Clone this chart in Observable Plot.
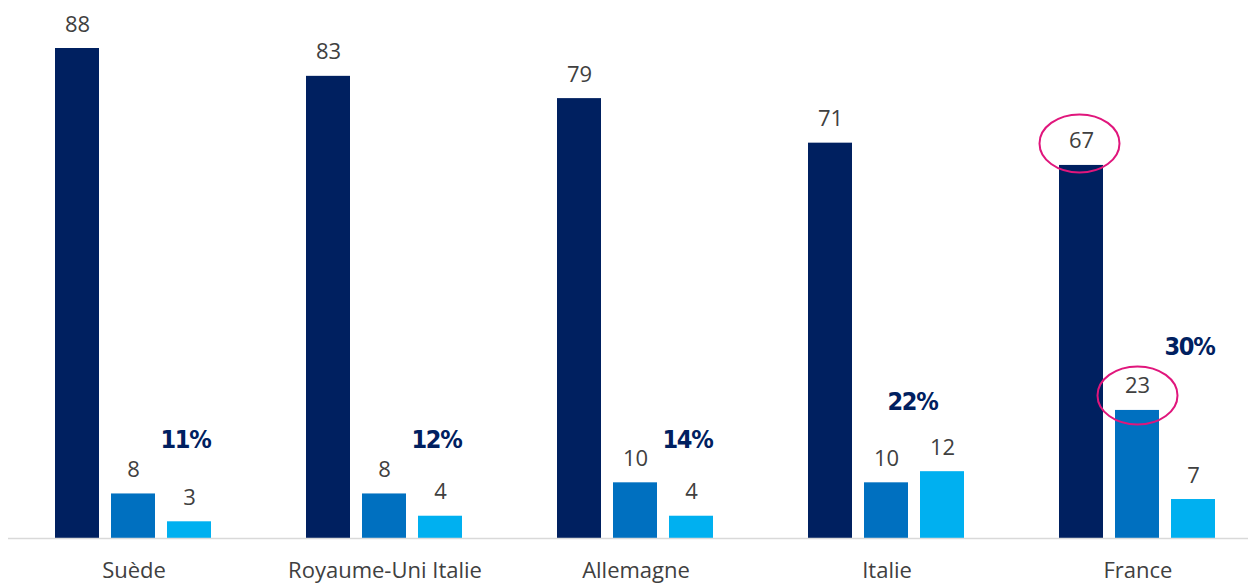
<!DOCTYPE html>
<html><head><meta charset="utf-8">
<script src="https://cdn.jsdelivr.net/npm/d3@7"></script>
<script src="https://cdn.jsdelivr.net/npm/@observablehq/plot@0.6"></script>
<style>body{margin:0;background:#fff;overflow:hidden;font-family:"Open Sans",sans-serif}
.pct text{letter-spacing:-1.2px}</style>
</head><body><div id="chart"></div>
<script>
const countries = ["Suède", "Royaume-Uni Italie", "Allemagne", "Italie", "France"];
const seriesNames = ["Série 1", "Série 2", "Série 3"];
const values1 = [88, 83, 79, 71, 67];
const values2 = [8, 8, 10, 10, 23];
const values3 = [3, 4, 4, 12, 7];
const pctLabels = ["11%", "12%", "14%", "22%", "30%"];
const pctAnchor = [16.3, 16.3, 16.3, 23, 32.9];
const highlighted = [["France", "Série 1"], ["France", "Série 2"]];
const colors = ["#002060", "#0070c0", "#00b0f0"];

const data = [];
countries.forEach((c, i) => {
  [values1, values2, values3].forEach((vals, j) => data.push({country: c, series: seriesNames[j], value: vals[i]}));
});
const pctData = countries.map((c, i) => ({country: c, series: seriesNames[2], label: pctLabels[i], anchor: pctAnchor[i]}));
const hl = data.filter(d => highlighted.some(([c, s]) => d.country === c && d.series === s));

const ellipse = {
  draw(ctx) {
    const rx = 40, ry = 29, k = 0.5523;
    ctx.moveTo(rx, 0);
    ctx.bezierCurveTo(rx, k * ry, k * rx, ry, 0, ry);
    ctx.bezierCurveTo(-k * rx, ry, -rx, k * ry, -rx, 0);
    ctx.bezierCurveTo(-rx, -k * ry, -k * rx, -ry, 0, -ry);
    ctx.bezierCurveTo(k * rx, -ry, rx, -k * ry, rx, 0);
    ctx.closePath();
  }
};

const pctFont = "'Liberation Sans Narrow', 'DejaVu Sans Condensed', sans-serif";

const chart = Plot.plot({
  width: 1248,
  height: 584,
  marginTop: 48,
  marginBottom: 46,
  marginLeft: 10,
  marginRight: 0,
  style: {fontFamily: "Open Sans, sans-serif", background: "white"},
  fx: {domain: countries, range: [7.5, 1262.5], padding: 0, label: null},
  x: {domain: seriesNames, paddingInner: 0.214, paddingOuter: 0.848, axis: null},
  y: {domain: [0, 88], axis: null},
  color: {domain: seriesNames, range: colors},
  marks: [
    Plot.barY(data, {fx: "country", x: "series", y: "value", fill: "series"}),
    Plot.ruleY([0], {stroke: "#d9d9d9", strokeWidth: 1.5}),
    Plot.text(data, {fx: "country", x: "series", y: "value", text: d => String(d.value), lineAnchor: "bottom", dy: -17, fontSize: 22, fill: "#404040"}),
    Plot.text(pctData.filter(d => d.country !== "Italie"), {fx: "country", x: "series", y: "anchor", text: "label", lineAnchor: "bottom", dx: -4, fontSize: 25, fontWeight: "bold", fill: "#002060", fontFamily: pctFont, className: "pct"}),
    Plot.text(pctData.filter(d => d.country === "Italie"), {fx: "country", x: "series", y: "anchor", text: "label", lineAnchor: "bottom", dx: -30, fontSize: 25, fontWeight: "bold", fill: "#002060", fontFamily: pctFont, className: "pct"}),
    Plot.dot(hl.filter(d => d.series === "Série 1"), {fx: "country", x: "series", y: "value", symbol: ellipse, r: 10, stroke: "#e0167c", strokeWidth: 2, fill: "none", dy: -22, dx: -2}),
    Plot.dot(hl.filter(d => d.series === "Série 2"), {fx: "country", x: "series", y: "value", symbol: ellipse, r: 10, stroke: "#e0167c", strokeWidth: 2, fill: "none", dy: -15}),
    Plot.axisFx({anchor: "bottom", tickSize: 0, tickPadding: 24, fontSize: 22, fill: "#404040", label: null})
  ]
});
document.getElementById("chart").appendChild(chart);
</script>
</body></html>
